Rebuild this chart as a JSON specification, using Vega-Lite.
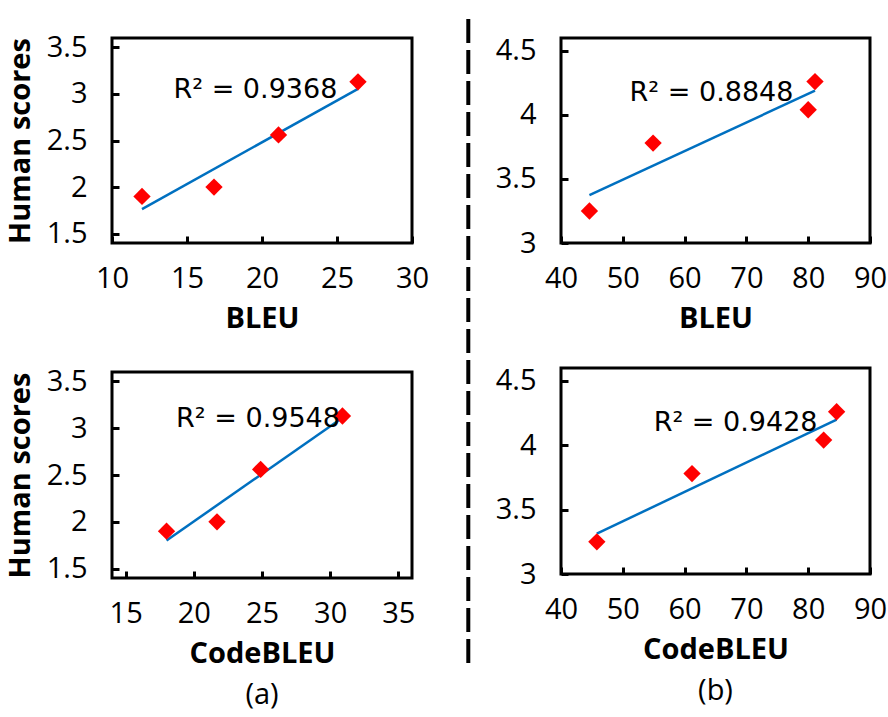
{
  "$schema": "https://vega.github.io/schema/vega-lite/v6.json",
  "background": "white",
  "padding": {"left": 4, "top": 17, "right": 5, "bottom": 3},
  "spacing": 10,
  "config": {
    "font": "Open Sans",
    "view": {"stroke": "black", "strokeWidth": 3},
    "axis": {
      "domain": false, "grid": false, "ticks": true, "tickSize": 7, "tickWidth": 3, "tickColor": "black", "offset": -7,
      "labelFlush": false, "labelOverlap": false,
      "labelFontSize": 29, "labelColor": "black", "labelFont": "Open Sans",
      "titleFontSize": 29, "titleFontWeight": "bold", "titleColor": "black", "titleFont": "Open Sans"
    },
    "axisX": {"labelPadding": 21, "titlePadding": 11},
    "axisY": {"labelPadding": 25, "titlePadding": 11}
  },
  "datasets": {
    "a_bleu": [
      {"score": 12.0, "human": 1.9},
      {"score": 16.8, "human": 2.0},
      {"score": 21.1, "human": 2.56},
      {"score": 26.4, "human": 3.13}
    ],
    "a_code": [
      {"score": 18.0, "human": 1.9},
      {"score": 21.7, "human": 2.0},
      {"score": 24.9, "human": 2.56},
      {"score": 30.9, "human": 3.13}
    ],
    "b_bleu": [
      {"score": 44.6, "human": 3.25},
      {"score": 54.9, "human": 3.78},
      {"score": 80.0, "human": 4.04},
      {"score": 81.1, "human": 4.26}
    ],
    "b_code": [
      {"score": 45.8, "human": 3.25},
      {"score": 61.2, "human": 3.78},
      {"score": 82.5, "human": 4.04},
      {"score": 84.6, "human": 4.26}
    ]
  },
  "hconcat": [
    {
      "spacing": 30,
      "vconcat": [
        {
          "width": 300, "height": 205,
          "data": {"name": "a_bleu"},
          "layer": [
            {
              "mark": {"type": "line", "color": "#0070C0", "strokeWidth": 2.5},
              "transform": [{"regression": "human", "on": "score"}],
              "encoding": {
                "x": {"field": "score", "type": "quantitative", "scale": {"domain": [10, 30]}, "axis": {"title": "BLEU", "values": [10, 15, 20, 25, 30], "format": "~g"}},
                "y": {"field": "human", "type": "quantitative", "scale": {"domain": [1.5, 3.5]}, "axis": {"title": "Human scores", "values": [1.5, 2, 2.5, 3, 3.5], "format": "~g"}}
              }
            },
            {
              "mark": {"type": "point", "shape": "diamond", "filled": true, "color": "#FF0000", "size": 300, "opacity": 1},
              "encoding": {
                "x": {"field": "score", "type": "quantitative"},
                "y": {"field": "human", "type": "quantitative"}
              }
            },
            {
              "data": {"values": [{"label": "R² = 0.9368"}]},
              "mark": {"type": "text", "align": "left", "baseline": "alphabetic", "fontSize": 27, "font": "DejaVu Sans", "color": "black"},
              "encoding": {
                "text": {"field": "label"},
                "x": {"datum": 14.1},
                "y": {"datum": 2.96}
              }
            }
          ]
        },
        {
          "width": 300, "height": 206,
          "data": {"name": "a_code"},
          "title": {"text": "(a)", "orient": "bottom", "anchor": "middle", "frame": "group", "fontSize": 29, "fontWeight": "normal", "color": "black", "font": "Open Sans", "offset": 13},
          "layer": [
            {
              "mark": {"type": "line", "color": "#0070C0", "strokeWidth": 2.5},
              "transform": [{"regression": "human", "on": "score"}],
              "encoding": {
                "x": {"field": "score", "type": "quantitative", "scale": {"domain": [15, 35]}, "axis": {"title": "CodeBLEU", "values": [15, 20, 25, 30, 35], "format": "~g"}},
                "y": {"field": "human", "type": "quantitative", "scale": {"domain": [1.5, 3.5]}, "axis": {"title": "Human scores", "values": [1.5, 2, 2.5, 3, 3.5], "format": "~g"}}
              }
            },
            {
              "mark": {"type": "point", "shape": "diamond", "filled": true, "color": "#FF0000", "size": 300, "opacity": 1},
              "encoding": {
                "x": {"field": "score", "type": "quantitative"},
                "y": {"field": "human", "type": "quantitative"}
              }
            },
            {
              "data": {"values": [{"label": "R² = 0.9548"}]},
              "mark": {"type": "text", "align": "left", "baseline": "alphabetic", "fontSize": 27, "font": "DejaVu Sans", "color": "black"},
              "encoding": {
                "text": {"field": "label"},
                "x": {"datum": 18.7},
                "y": {"datum": 3.01}
              }
            }
          ]
        }
      ]
    },
    {
      "width": 42, "height": 632,
      "view": {"stroke": null},
      "data": {"values": [{"label": "separator"}]},
      "mark": {"type": "rule", "strokeDash": [24, 7], "strokeWidth": 4, "color": "black"},
      "encoding": {
        "x": {"datum": 0.65, "type": "quantitative", "scale": {"domain": [0, 1]}, "axis": null},
        "y": {"datum": 1.03, "type": "quantitative", "scale": {"domain": [0, 1]}, "axis": null},
        "y2": {"datum": 0}
      }
    },
    {
      "spacing": 30,
      "vconcat": [
        {
          "width": 309, "height": 205,
          "data": {"name": "b_bleu"},
          "layer": [
            {
              "mark": {"type": "line", "color": "#0070C0", "strokeWidth": 2.5},
              "transform": [{"regression": "human", "on": "score"}],
              "encoding": {
                "x": {"field": "score", "type": "quantitative", "scale": {"domain": [40, 90]}, "axis": {"title": "BLEU", "values": [40, 50, 60, 70, 80, 90], "format": "~g"}},
                "y": {"field": "human", "type": "quantitative", "scale": {"domain": [3, 4.5]}, "axis": {"title": null, "values": [3, 3.5, 4, 4.5], "format": "~g"}}
              }
            },
            {
              "mark": {"type": "point", "shape": "diamond", "filled": true, "color": "#FF0000", "size": 300, "opacity": 1},
              "encoding": {
                "x": {"field": "score", "type": "quantitative"},
                "y": {"field": "human", "type": "quantitative"}
              }
            },
            {
              "data": {"values": [{"label": "R² = 0.8848"}]},
              "mark": {"type": "text", "align": "left", "baseline": "alphabetic", "fontSize": 27, "font": "DejaVu Sans", "color": "black"},
              "encoding": {
                "text": {"field": "label"},
                "x": {"datum": 51.1},
                "y": {"datum": 4.105}
              }
            }
          ]
        },
        {
          "width": 309, "height": 206,
          "data": {"name": "b_code"},
          "title": {"text": "(b)", "orient": "bottom", "anchor": "middle", "frame": "group", "fontSize": 29, "fontWeight": "normal", "color": "black", "font": "Open Sans", "offset": 13},
          "layer": [
            {
              "mark": {"type": "line", "color": "#0070C0", "strokeWidth": 2.5},
              "transform": [{"regression": "human", "on": "score"}],
              "encoding": {
                "x": {"field": "score", "type": "quantitative", "scale": {"domain": [40, 90]}, "axis": {"title": "CodeBLEU", "values": [40, 50, 60, 70, 80, 90], "format": "~g"}},
                "y": {"field": "human", "type": "quantitative", "scale": {"domain": [3, 4.5]}, "axis": {"title": null, "values": [3, 3.5, 4, 4.5], "format": "~g"}}
              }
            },
            {
              "mark": {"type": "point", "shape": "diamond", "filled": true, "color": "#FF0000", "size": 300, "opacity": 1},
              "encoding": {
                "x": {"field": "score", "type": "quantitative"},
                "y": {"field": "human", "type": "quantitative"}
              }
            },
            {
              "data": {"values": [{"label": "R² = 0.9428"}]},
              "mark": {"type": "text", "align": "left", "baseline": "alphabetic", "fontSize": 27, "font": "DejaVu Sans", "color": "black"},
              "encoding": {
                "text": {"field": "label"},
                "x": {"datum": 55.0},
                "y": {"datum": 4.11}
              }
            }
          ]
        }
      ]
    }
  ]
}
